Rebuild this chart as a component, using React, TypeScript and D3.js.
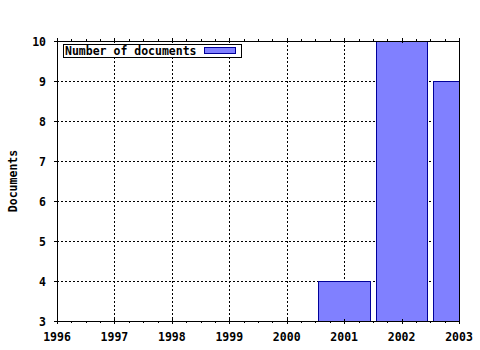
import React from "react";
import * as d3 from "d3";

const years = [1996, 1997, 1998, 1999, 2000, 2001, 2002, 2003];
const barYears = [2001, 2002, 2003];
const barValues = [4, 10, 9];
const yTicks = [3, 4, 5, 6, 7, 8, 9, 10];
const legendLabel = "Number of documents";
const yLabel = "Documents";

const W = 480, H = 350;
const L = 57, R = 459, T = 41, B = 321;
const FONT = "'DejaVu Sans Mono', monospace";

export default function App() {
  const x = d3.scaleLinear().domain([1996, 2003]).range([L, R]);
  const y = d3.scaleLinear().domain([3, 10]).range([B, T]);
  const step = x(1997) - x(1996);
  const bw = step * 0.9;
  const minor = d3.range(1996, 2003.001, 0.25).filter((v) => Math.abs(v - Math.round(v)) > 1e-6);

  return (
    <svg width={W} height={H} style={{ position: "absolute", left: 0, top: 0, background: "#fff" }} shapeRendering="crispEdges">
      <defs>
        <clipPath id="plot">
          <rect x={L} y={T} width={R - L} height={B - T} />
        </clipPath>
      </defs>
      <rect x={0} y={0} width={W} height={H} fill="#fff" />
      {/* grid */}
      {years.slice(1, -1).map((v) => (
        <line key={"gx" + v} x1={x(v) + 0.5} x2={x(v) + 0.5} y1={T} y2={B} stroke="#000" strokeDasharray="2,2" />
      ))}
      {yTicks.slice(1, -1).map((v) => (
        <line key={"gy" + v} x1={L} x2={R} y1={y(v) + 0.5} y2={y(v) + 0.5} stroke="#000" strokeDasharray="2,2" />
      ))}
      {/* bars */}
      <g clipPath="url(#plot)">
        {barYears.map((yr, i) => (
          <rect
            key={yr}
            x={x(yr) - bw / 2 + 0.5}
            y={y(barValues[i]) + 0.5}
            width={bw}
            height={y(3) - y(barValues[i])}
            fill="#8080ff"
            stroke="#000099"
          />
        ))}
      </g>
      {/* frame */}
      <rect x={L + 0.5} y={T + 0.5} width={R - L} height={B - T} fill="none" stroke="#000" />
      {/* x ticks */}
      {years.map((v) => (
        <g key={"xt" + v}>
          <line x1={x(v) + 0.5} x2={x(v) + 0.5} y1={B - 2} y2={B + 3} stroke="#000" />
          <line x1={x(v) + 0.5} x2={x(v) + 0.5} y1={T - 3} y2={T + 2} stroke="#000" />
          <text x={x(v)} y={341} textAnchor="middle" fontFamily={FONT} fontWeight="bold" fontSize="11.5px" fill="#000">
            {v}
          </text>
        </g>
      ))}
      {minor.map((v) => (
        <g key={"xm" + v}>
          <line x1={x(v) + 0.5} x2={x(v) + 0.5} y1={B} y2={B + 2} stroke="#000" />
          <line x1={x(v) + 0.5} x2={x(v) + 0.5} y1={T - 2} y2={T} stroke="#000" />
        </g>
      ))}
      {/* y ticks */}
      {yTicks.map((v) => (
        <g key={"yt" + v}>
          <line x1={L - 3} x2={L + 2} y1={y(v) + 0.5} y2={y(v) + 0.5} stroke="#000" />
          <text x={46} y={y(v) + 4.5} textAnchor="end" fontFamily={FONT} fontWeight="bold" fontSize="11.5px" fill="#000">
            {v}
          </text>
        </g>
      ))}
      {/* y label */}
      <text
        transform={`translate(17,${(T + B) / 2}) rotate(-90)`}
        textAnchor="middle"
        fontFamily={FONT}
        fontWeight="bold"
        fontSize="11.5px"
        fill="#000"
      >
        {yLabel}
      </text>
      {/* legend */}
      <rect x={63.5} y={44.5} width={178} height={13} fill="#fff" stroke="#000" />
      <text x={65} y={55} fontFamily={FONT} fontWeight="bold" fontSize="11.5px" fill="#000">
        {legendLabel}
      </text>
      <rect x={204.5} y={47.5} width={31} height={6} fill="#8080ff" stroke="#000099" />
    </svg>
  );
}
